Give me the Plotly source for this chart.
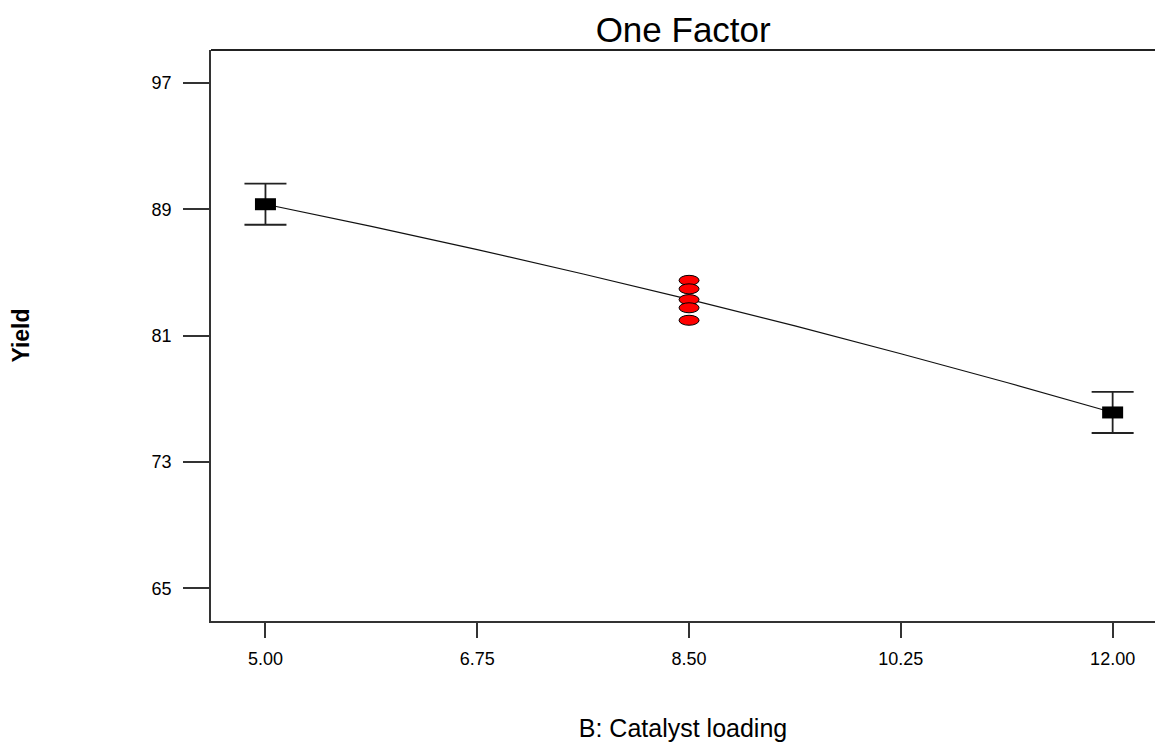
import plotly.graph_objects as go

# Data
factor_levels = [5.00, 12.00]
predicted_yield = [89.33, 76.14]
ci_half_width = [1.30, 1.30]

# model curve
curve_x = [5.00, 5.875, 6.75, 7.625, 8.50, 9.375, 10.25, 11.125, 12.00]
curve_y = [89.33, 87.93, 86.46, 84.91, 83.30, 81.62, 79.86, 78.04, 76.14]

center_x = [8.5, 8.5, 8.5, 8.5, 8.5]
center_yield = [84.51, 83.97, 83.29, 82.77, 81.98]

x_ticks = [5.00, 6.75, 8.50, 10.25, 12.00]
y_ticks = [65, 73, 81, 89, 97]

fig = go.Figure()

# Prediction line
fig.add_trace(go.Scatter(
    x=curve_x, y=curve_y, mode="lines", line_shape="spline",
    line=dict(color="#111111", width=1.2), showlegend=False, hoverinfo="skip"))

# Error bars at the factorial levels
fig.add_trace(go.Scatter(
    x=factor_levels, y=predicted_yield, mode="markers",
    marker=dict(size=1, color="rgba(0,0,0,0)"),
    error_y=dict(type="data", array=ci_half_width, visible=True,
                 color="#222222", thickness=1.8, width=21),
    showlegend=False))

shapes = []
# Black rectangle markers
for xv, yv in zip(factor_levels, predicted_yield):
    shapes.append(dict(type="rect", xref="x", yref="y",
                       xsizemode="pixel", ysizemode="pixel",
                       xanchor=xv, yanchor=yv,
                       x0=-10.5, x1=10.5, y0=-6, y1=6,
                       fillcolor="#000000", line=dict(width=0)))
# Red ellipse markers at centre points
for xv, yv in zip(center_x, center_yield):
    shapes.append(dict(type="circle", xref="x", yref="y",
                       xsizemode="pixel", ysizemode="pixel",
                       xanchor=xv, yanchor=yv,
                       x0=-10, x1=10, y0=-5, y1=5,
                       fillcolor="#ff0000", line=dict(color="#000000", width=1)))
# Top border
shapes.append(dict(type="line", xref="paper", yref="paper",
                   x0=0, x1=1, y0=1, y1=1,
                   line=dict(color="#222222", width=2.2)))

fig.update_layout(
    width=1155, height=742,
    margin=dict(l=211, r=0, t=50, b=121),
    paper_bgcolor="white", plot_bgcolor="white",
    font=dict(family="Liberation Sans, Arial, sans-serif", color="#000000"),
    title=dict(text="One Factor", x=0.5915, xanchor="center",
               y=0.960, yanchor="middle",
               font=dict(size=35, color="#000000")),
    shapes=shapes,
)

fig.update_xaxes(
    range=[4.55, 12.35], tickvals=x_ticks, tickformat=".2f",
    ticks="outside", ticklen=15, tickwidth=1.5, tickcolor="#333333",
    showline=True, linecolor="#333333", linewidth=1.5,
    showgrid=False, zeroline=False,
    tickfont=dict(size=18), ticklabelstandoff=6,
    title=dict(text="B: Catalyst loading", font=dict(size=25), standoff=54))

fig.update_yaxes(
    range=[62.93, 99.1], tickvals=y_ticks,
    ticks="outside", ticklen=26, tickwidth=1.5, tickcolor="#333333",
    showline=True, linecolor="#333333", linewidth=1.5,
    showgrid=False, zeroline=False,
    tickfont=dict(size=18), ticklabelstandoff=8,
    title=dict(text="<b>Yield</b>", font=dict(size=23), standoff=116))

fig.write_html("out.html")
